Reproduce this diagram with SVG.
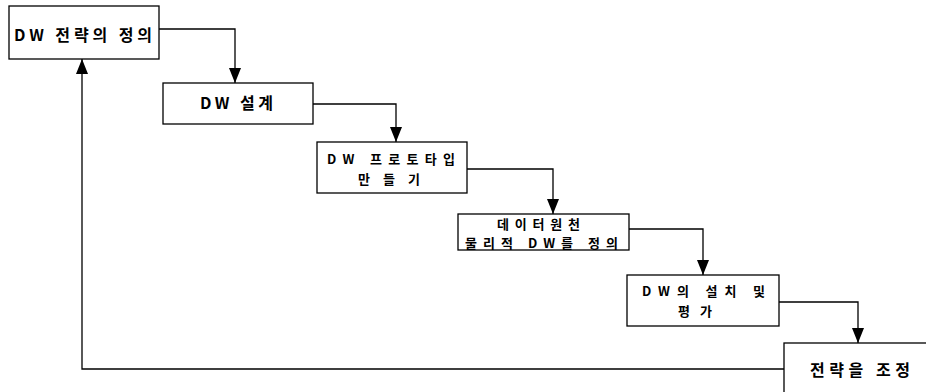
<svg xmlns="http://www.w3.org/2000/svg" width="926" height="392" viewBox="0 0 926 392">
<defs>
<style>
.box{fill:#fff;stroke:#000;stroke-width:1.3}
.t{font-family:"Noto Sans CJK KR","Liberation Sans",sans-serif;font-size:16px;font-weight:bold;fill:#000;text-anchor:middle;dominant-baseline:central}
.s{font-size:13px}
.c{fill:none;stroke:#000;stroke-width:1.3;marker-end:url(#ah)}
</style>
<marker id="ah" markerUnits="userSpaceOnUse" markerWidth="15" markerHeight="12" viewBox="0 0 15 12" refX="15" refY="6" orient="auto">
<path d="M0,0 L15,6 L0,12 Z" fill="#000"/>
</marker>
</defs>
<rect width="926" height="392" fill="#fff"/>
<g id="connectors">
<polyline class="c" points="159,29 235,29 235,83"/>
<polyline class="c" points="313,104 396,104 396,142"/>
<polyline class="c" points="467,169 553,169 553,214"/>
<polyline class="c" points="629,229 703,229 703,275"/>
<polyline class="c" points="779,302 858,302 858,343"/>
<polyline class="c" points="784,369 82,369 82,59"/>
</g>
<g id="n1">
<rect class="box" x="9" y="6" width="150" height="53"/>
<text class="t" x="83" y="34" textLength="138" lengthAdjust="spacing">DW 전략의 정의</text>
</g>
<g id="n2">
<rect class="box" x="163" y="83" width="150" height="41"/>
<text class="t" x="236.5" y="102" textLength="73" lengthAdjust="spacing">DW 설계</text>
</g>
<g id="n3">
<rect class="box" x="317" y="142" width="150" height="51"/>
<text class="t s"><tspan x="391" y="158" textLength="128" lengthAdjust="spacing">DW 프로토타입</tspan><tspan x="389" y="177.5" textLength="62" lengthAdjust="spacing">만들기</tspan></text>
</g>
<g id="n4">
<rect class="box" x="458" y="214" width="171" height="36"/>
<text class="t s"><tspan x="538.5" y="222.5" textLength="83" lengthAdjust="spacing">데이터원천</tspan><tspan x="541.5" y="242" textLength="153" lengthAdjust="spacing">물리적 DW를 정의</tspan></text>
</g>
<g id="n5">
<rect class="box" x="627" y="275" width="152" height="51"/>
<text class="t s"><tspan x="703.5" y="290" textLength="123" lengthAdjust="spacing">DW의 설치 및</tspan><tspan x="695" y="309.5" textLength="34" lengthAdjust="spacing">평가</tspan></text>
</g>
<g id="n6">
<rect class="box" x="784" y="343" width="160" height="60"/>
<text class="t" x="860" y="369" textLength="100" lengthAdjust="spacing">전략을 조정</text>
</g>
</svg>
